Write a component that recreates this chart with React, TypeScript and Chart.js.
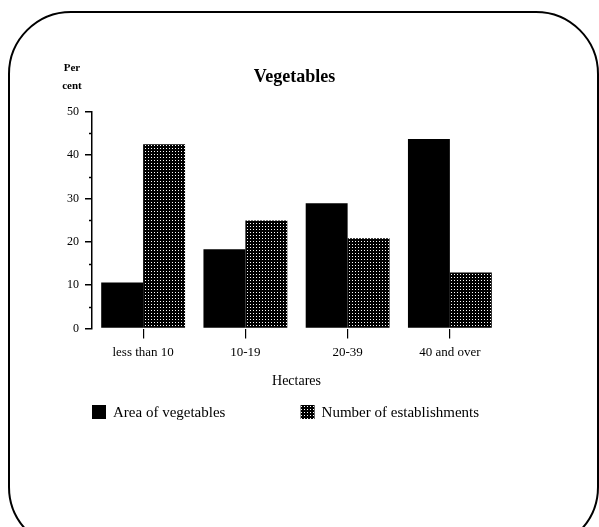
import React, { useEffect, useRef } from 'react';
import { Chart, registerables } from 'chart.js';

Chart.register(...registerables);

const categories = ['less than 10', '10-19', '20-39', '40 and over'];
const areaOfVegetables = [10.6, 18.3, 28.9, 43.7];
const numberOfEstablishments = [42.5, 24.9, 20.8, 12.9];
const seriesLabels = ['Area of vegetables', 'Number of establishments'];
const yTicks = [0, 10, 20, 30, 40, 50];
const yMinorTicks = [5, 15, 25, 35, 45];
const chartTitle = 'Vegetables';
const yTitleLines = ['Per', 'cent'];
const xTitle = 'Hectares';

const FONT = "'Liberation Serif', 'Times New Roman', serif";

function makePattern(): CanvasPattern | string {
  const c = document.createElement('canvas');
  c.width = 3;
  c.height = 3;
  const g = c.getContext('2d');
  if (!g) return '#555';
  g.fillStyle = '#000';
  g.fillRect(0, 0, 3, 3);
  g.fillStyle = '#fff';
  g.fillRect(1, 1, 1, 1);
  return g.createPattern(c, 'repeat') || '#555';
}

const framePlugin = {
  id: 'frame',
  beforeDraw(chart: any) {
    const ctx = chart.ctx;
    ctx.save();
    ctx.fillStyle = '#fff';
    ctx.fillRect(0, 0, chart.width, chart.height);
    ctx.beginPath();
    ctx.lineWidth = 2;
    ctx.strokeStyle = '#000';
    ctx.roundRect(9, 12, chart.width - 10, chart.height + 10, 62);
    ctx.stroke();
    ctx.restore();
  },
};

const extrasPlugin = {
  id: 'extras',
  afterDraw(chart: any) {
    const ctx = chart.ctx;
    const y = chart.scales.y;
    const x = chart.scales.x;
    const area = chart.chartArea;
    ctx.save();
    // minor ticks
    ctx.strokeStyle = '#000';
    ctx.lineWidth = 1.5;
    yMinorTicks.forEach((v) => {
      const py = Math.round(y.getPixelForValue(v)) + 0.5;
      ctx.beginPath();
      ctx.moveTo(area.left - 3, py);
      ctx.lineTo(area.left, py);
      ctx.stroke();
    });
    // y title "Per / cent"
    ctx.fillStyle = '#000';
    ctx.font = `bold 11px ${FONT}`;
    ctx.textAlign = 'center';
    ctx.textBaseline = 'middle';
    const cx = area.left - 20;
    ctx.fillText(yTitleLines[0], cx, area.top - 43);
    ctx.fillText(yTitleLines[1], cx, area.top - 25);
    // legend
    const ly = x.bottom + 18;
    ctx.font = `15px ${FONT}`;
    ctx.textAlign = 'left';
    const positions = [area.left, area.left + (area.right - area.left) * 0.51];
    chart.data.datasets.forEach((ds: any, i: number) => {
      const bx = positions[i];
      ctx.fillStyle = ds.backgroundColor;
      ctx.fillRect(bx, ly - 7, 14, 14);
      ctx.fillStyle = '#000';
      ctx.fillText(ds.label, bx + 21, ly + 1);
    });
    ctx.restore();
  },
};

export default function App() {
  const ref = useRef<HTMLCanvasElement | null>(null);
  useEffect(() => {
    if (!ref.current) return;
    const pattern = makePattern();
    const chart = new Chart(ref.current, {
      type: 'bar',
      data: {
        labels: categories,
        datasets: [
          {
            label: seriesLabels[0],
            data: areaOfVegetables,
            backgroundColor: '#000',
            borderWidth: 0,
            categoryPercentage: 0.82,
            barPercentage: 1.0,
          },
          {
            label: seriesLabels[1],
            data: numberOfEstablishments,
            backgroundColor: pattern as any,
            borderWidth: 0,
            categoryPercentage: 0.82,
            barPercentage: 1.0,
          },
        ],
      },
      options: {
        responsive: false,
        animation: false,
        devicePixelRatio: 1,
        layout: { padding: { left: 0, right: 10, top: 0, bottom: 133 } },
        plugins: {
          legend: { display: false },
          tooltip: { enabled: false },
          title: {
            display: true,
            text: chartTitle,
            color: '#000',
            font: { family: FONT, size: 18, weight: 'bold' },
            padding: { top: 67, bottom: 23 },
          },
        },
        scales: {
          x: {
            type: 'category',
            offset: true,
            border: { display: false },
            grid: {
              display: true,
              offset: false,
              drawOnChartArea: false,
              drawTicks: true,
              tickLength: 10,
              color: '#000',
              lineWidth: 1.2,
            },
            ticks: {
              color: '#000',
              font: { family: FONT, size: 13 },
              padding: 6,
              maxRotation: 0,
              autoSkip: false,
            },
            title: {
              display: true,
              text: xTitle,
              color: '#000',
              font: { family: FONT, size: 14 },
              padding: { top: 7, bottom: 4 },
            },
          },
          y: {
            type: 'linear',
            position: 'left',
            min: 0,
            max: 50,
            border: { display: true, color: '#000', width: 1.5 },
            grid: {
              display: true,
              drawOnChartArea: false,
              drawTicks: true,
              tickLength: 7,
              color: '#000',
              lineWidth: 1.5,
            },
            ticks: {
              color: '#000',
              font: { family: FONT, size: 12 },
              padding: 6,
            },
            afterBuildTicks: (s: any) => {
              s.ticks = yTicks.map((v) => ({ value: v }));
            },
            afterFit: (s: any) => {
              s.width = 92;
            },
          },
          y2: {
            type: 'linear',
            position: 'right',
            display: true,
            border: { display: false },
            grid: { display: false },
            ticks: { display: false },
            afterFit: (s: any) => {
              s.width = 88;
            },
          },
        },
      } as any,
      plugins: [framePlugin, extrasPlugin],
    });
    return () => chart.destroy();
  }, []);

  return (
    <div style={{ position: 'absolute', left: 0, top: 0, width: 599, height: 527 }}>
      <canvas
        ref={ref}
        width={599}
        height={527}
        style={{ display: 'block', width: 599, height: 527 }}
      />
    </div>
  );
}
